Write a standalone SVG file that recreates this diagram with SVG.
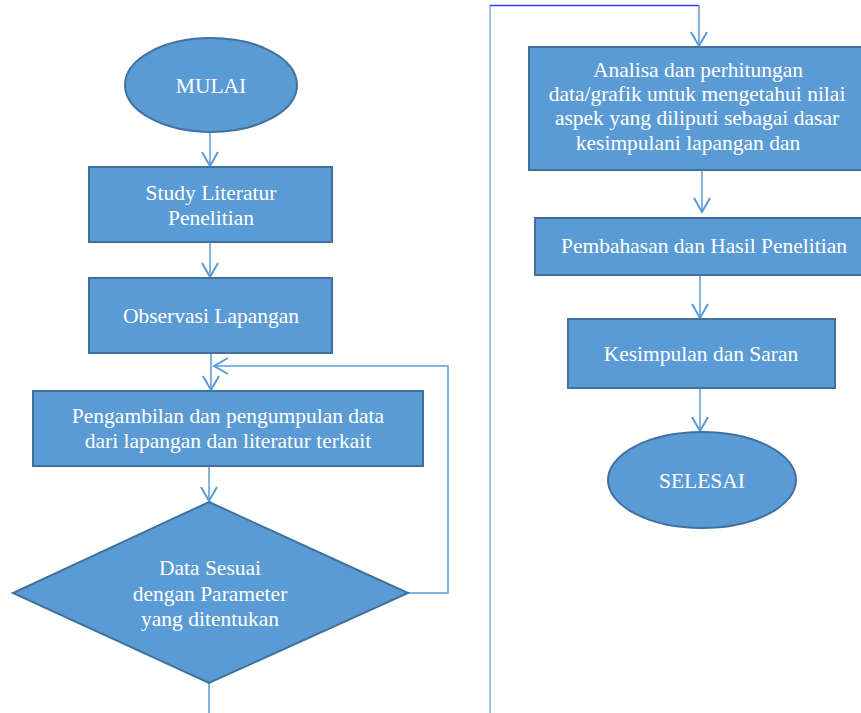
<svg xmlns="http://www.w3.org/2000/svg" width="861" height="713" viewBox="0 0 861 713">
<style>
.n{fill:#5b9bd5;stroke:#41719c;stroke-width:2}
.t{fill:#ffffff;font-family:'Liberation Serif','DejaVu Serif',serif;font-size:21.5px;text-anchor:middle}
.c{fill:none;stroke:#5b9bd5;stroke-width:1.5}
</style>
<defs>
<marker id="ah" viewBox="0 0 20 20" refX="18" refY="10" markerWidth="20" markerHeight="20" markerUnits="userSpaceOnUse" orient="auto">
<polyline points="4,2 18,10 4,18" fill="none" stroke="#5b9bd5" stroke-width="2"/>
</marker>
</defs>
<rect width="861" height="713" fill="#ffffff"/>
<g id="connectors">
<line class="c" x1="210" y1="132" x2="210" y2="166" marker-end="url(#ah)"/>
<line class="c" x1="210" y1="243" x2="210" y2="277" marker-end="url(#ah)"/>
<line class="c" x1="211" y1="353" x2="211" y2="390" marker-end="url(#ah)"/>
<line class="c" x1="209" y1="467" x2="209" y2="501" marker-end="url(#ah)"/>
<polyline class="c" points="408,593 448,593 448,366 214,366" marker-end="url(#ah)"/>
<line class="c" x1="209" y1="683" x2="209" y2="713"/>
<line x1="490" y1="713" x2="490" y2="5" stroke="#9dc3e6" stroke-width="2"/>
<line x1="490" y1="5.5" x2="699" y2="5.5" stroke="#3b3bef" stroke-width="1.5"/>
<line class="c" x1="699" y1="5" x2="699" y2="46" marker-end="url(#ah)"/>
<line class="c" x1="702" y1="171" x2="702" y2="212" marker-end="url(#ah)"/>
<line class="c" x1="700" y1="276" x2="700" y2="318" marker-end="url(#ah)"/>
<line class="c" x1="700" y1="389" x2="700" y2="431" marker-end="url(#ah)"/>
</g>
<g id="mulai">
<ellipse class="n" cx="211" cy="85" rx="86" ry="47"/>
<text class="t" x="211" y="93">MULAI</text>
</g>
<g id="study">
<rect class="n" x="89" y="167" width="243" height="75"/>
<text class="t" x="211" y="200">Study Literatur</text>
<text class="t" x="211" y="225">Penelitian</text>
</g>
<g id="observasi">
<rect class="n" x="89" y="278" width="243" height="75"/>
<text class="t" x="211" y="323">Observasi Lapangan</text>
</g>
<g id="pengambilan">
<rect class="n" x="33" y="391" width="390" height="75"/>
<text class="t" x="228" y="423">Pengambilan dan pengumpulan data</text>
<text class="t" x="228" y="448">dari lapangan dan literatur terkait</text>
</g>
<g id="keputusan">
<polygon class="n" points="209,502 408,593 209,683 13,593" stroke-width="1"/>
<text class="t" x="210" y="575">Data Sesuai</text>
<text class="t" x="210" y="601">dengan Parameter</text>
<text class="t" x="210" y="626">yang ditentukan</text>
</g>
<g id="analisa">
<rect class="n" x="529" y="47" width="345" height="123"/>
<text class="t" x="698" y="77">Analisa dan perhitungan</text>
<text class="t" x="697" y="101">data/grafik untuk mengetahui nilai</text>
<text class="t" x="697" y="125">aspek yang diliputi sebagai dasar</text>
<text class="t" x="688" y="150">kesimpulani lapangan dan</text>
</g>
<g id="pembahasan">
<rect class="n" x="535" y="218" width="340" height="57"/>
<text class="t" x="704" y="253">Pembahasan dan Hasil Penelitian</text>
</g>
<g id="kesimpulan">
<rect class="n" x="568" y="319" width="267" height="69"/>
<text class="t" x="701" y="361">Kesimpulan dan Saran</text>
</g>
<g id="selesai">
<ellipse class="n" cx="702" cy="480" rx="94" ry="48"/>
<text class="t" x="702" y="488">SELESAI</text>
</g>
</svg>
